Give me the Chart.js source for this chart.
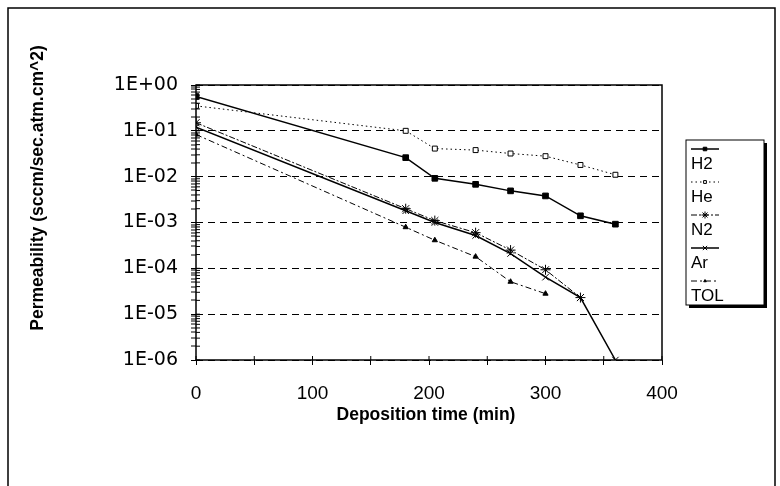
<!DOCTYPE html>
<html>
<head>
<meta charset="utf-8">
<script src="https://cdn.jsdelivr.net/npm/chart.js@4.4.0/dist/chart.umd.min.js"></script>
<style>
  html, body { margin: 0; padding: 0; background: #fff; }
  #wrap { position: relative; width: 780px; height: 486px; }
</style>
</head>
<body>
<div id="wrap"><canvas id="chart" width="780" height="486"></canvas></div>
<script>
// deposition times (min)
const times = [0, 180, 205, 240, 270, 300, 330, 360];

// permeability values (sccm/sec.atm.cm^2)
const h2Values  = [0.56, 0.026, 0.0092, 0.0068, 0.0049, 0.0038, 0.0014, 0.00092];
const heValues  = [0.35, 0.1, 0.041, 0.038, 0.032, 0.028, 0.018, 0.011];
const n2Values  = [0.15, 0.002, 0.0011, 0.0006, 0.00025, 0.000093, 0.000023];
const arValues  = [0.12, 0.0018, 0.001, 0.00052, 0.00021, 0.000064, 0.000023, 0.000001];
const tolValues = [0.083, 0.00079, 0.00041, 0.00018, 0.000051, 0.000028];

const seriesNames = ['H2', 'He', 'N2', 'Ar', 'TOL'];
const xTickLabels = [0, 100, 200, 300, 400];
const xTitle = 'Deposition time (min)';
const yTitle = 'Permeability (sccm/sec.atm.cm^2)';

const FONT = '"Liberation Sans", Arial, sans-serif';

function toPoints(vals) {
  return vals.map((v, i) => ({ x: times[i], y: v }));
}

function isDecade(v) {
  const e = Math.log10(v);
  return Math.abs(e - Math.round(e)) < 1e-9;
}

function sciLabel(v) {
  const e = Math.round(Math.log10(v));
  const s = e < 0 ? '-' : '+';
  return '1E' + s + String(Math.abs(e)).padStart(2, '0');
}

// outer frame, plot frame, inner tick marks and axis titles
const framePlugin = {
  id: 'frames',
  beforeDraw(chart) {
    const ctx = chart.ctx;
    ctx.save();
    ctx.strokeStyle = '#000';
    ctx.lineWidth = 1.5;
    ctx.beginPath();
    ctx.moveTo(8, 486);
    ctx.lineTo(8, 8);
    ctx.lineTo(775, 8);
    ctx.lineTo(775, 486);
    ctx.stroke();
    ctx.restore();
  },
  afterDatasetsDraw(chart) {
    const a = chart.chartArea;
    const ctx = chart.ctx;
    const xs = chart.scales.x, ys = chart.scales.y;
    ctx.save();
    ctx.strokeStyle = '#000';
    ctx.lineWidth = 1.5;
    ctx.strokeRect(a.left, a.top, a.right - a.left, a.bottom - a.top);

    // ticks also poke into the plot area
    ctx.lineWidth = 1;
    ctx.beginPath();
    ys.ticks.forEach(t => {
      const py = ys.getPixelForValue(t.value);
      ctx.moveTo(a.left, py);
      ctx.lineTo(a.left + 4, py);
    });
    xs.ticks.forEach(t => {
      const px = xs.getPixelForValue(t.value);
      ctx.moveTo(px, a.bottom);
      ctx.lineTo(px, a.bottom - 4);
    });
    ctx.stroke();

    ctx.fillStyle = '#000';
    ctx.font = 'bold 17.5px ' + FONT;
    ctx.textAlign = 'center';
    ctx.textBaseline = 'middle';
    ctx.fillText(xTitle, (a.left + a.right) / 2 - 3, a.bottom + 55);
    ctx.translate(38, 188);
    ctx.rotate(-Math.PI / 2);
    ctx.fillText(yTitle, 0, 0);
    ctx.restore();
  }
};

// legend with line sample above each label
const legendPlugin = {
  id: 'boxLegend',
  afterDraw(chart) {
    const ctx = chart.ctx;
    const lx = 686, ly = 140, lw = 78, lh = 165;
    ctx.save();
    ctx.fillStyle = '#000';
    ctx.fillRect(lx + lw, ly + 3, 3, lh);
    ctx.fillRect(lx + 3, ly + lh, lw, 3);
    ctx.strokeStyle = '#000';
    ctx.lineWidth = 1;
    ctx.strokeRect(lx, ly, lw, lh);

    chart.data.datasets.forEach((ds, i) => {
      const sy = ly + 9 + i * 33;
      ctx.save();
      ctx.strokeStyle = '#000';
      ctx.lineWidth = ds.borderWidth;
      ctx.setLineDash(ds.borderDash || []);
      ctx.beginPath();
      ctx.moveTo(691, sy);
      ctx.lineTo(719, sy);
      ctx.stroke();
      ctx.setLineDash([]);
      ctx.lineWidth = 1;
      ctx.fillStyle = ds.pointBackgroundColor;
      Chart.helpers.drawPoint(ctx, {
        pointStyle: ds.pointStyle,
        radius: ds.pointRadius - 1.5,
        rotation: 0,
        borderWidth: 1
      }, 705, sy);
      ctx.restore();
      ctx.fillStyle = '#000';
      ctx.font = '17px ' + FONT;
      ctx.textBaseline = 'middle';
      ctx.textAlign = 'left';
      ctx.fillText(seriesNames[i], 691, sy + 15);
    });
    ctx.restore();
  }
};

const datasets = [
  { label: seriesNames[0], data: toPoints(h2Values), borderWidth: 1.5, borderDash: [],
    pointStyle: 'rect', pointRadius: 4, pointBackgroundColor: '#000' },
  { label: seriesNames[1], data: toPoints(heValues), borderWidth: 1, borderDash: [1.5, 3],
    pointStyle: 'rect', pointRadius: 3.5, pointBackgroundColor: '#fff' },
  { label: seriesNames[2], data: toPoints(n2Values), borderWidth: 1, borderDash: [6, 2, 2, 2],
    pointStyle: 'star', pointRadius: 5, pointBackgroundColor: '#000' },
  { label: seriesNames[3], data: toPoints(arValues), borderWidth: 1.5, borderDash: [],
    pointStyle: 'crossRot', pointRadius: 4.5, pointBackgroundColor: '#000' },
  { label: seriesNames[4], data: toPoints(tolValues), borderWidth: 1, borderDash: [6, 3, 2, 3],
    pointStyle: 'triangle', pointRadius: 3, pointBackgroundColor: '#000' }
];
datasets.forEach(d => {
  d.borderColor = '#000';
  d.pointBorderColor = '#000';
  d.pointBorderWidth = 1;
  d.fill = false;
  d.tension = 0;
});

new Chart(document.getElementById('chart'), {
  type: 'line',
  data: { datasets },
  plugins: [framePlugin, legendPlugin],
  options: {
    responsive: false,
    animation: false,
    layout: { padding: { left: 0, top: 85, right: 118, bottom: 0 } },
    plugins: { legend: { display: false }, tooltip: { enabled: false } },
    scales: {
      x: {
        type: 'linear',
        min: 0,
        max: 400,
        afterBuildTicks: s => {
          const t = [];
          for (let v = 0; v <= 400; v += 50) t.push({ value: v });
          s.ticks = t;
        },
        afterFit: s => { s.height = 486 - 360; },
        ticks: {
          autoSkip: false,
          maxRotation: 0,
          padding: 17,
          color: '#000',
          font: { family: FONT, size: 19 },
          callback: v => xTickLabels.includes(v) ? String(v) : ''
        },
        grid: { drawOnChartArea: false, tickLength: 5, tickColor: '#000', tickWidth: 1 },
        border: { display: false }
      },
      y: {
        type: 'logarithmic',
        min: 1e-6,
        max: 1,
        afterBuildTicks: s => {
          const t = [];
          for (let e = -6; e <= 0; e++) {
            for (let m = 1; m < 10; m++) {
              if (e === 0 && m > 1) break;
              t.push({ value: m * Math.pow(10, e) });
            }
          }
          s.ticks = t;
        },
        afterFit: s => { s.width = 196; },
        ticks: {
          autoSkip: false,
          padding: 13,
          color: '#000',
          font: { family: '"DejaVu Sans", sans-serif', size: 19 },
          callback: v => isDecade(v) ? sciLabel(v) : ''
        },
        grid: {
          color: '#000',
          lineWidth: c => (c.tick && isDecade(c.tick.value)) ? 1 : 0,
          tickLength: 5,
          tickColor: '#000',
          tickWidth: 1
        },
        border: { display: false, dash: [7, 5] }
      }
    }
  }
});
</script>
</body>
</html>
